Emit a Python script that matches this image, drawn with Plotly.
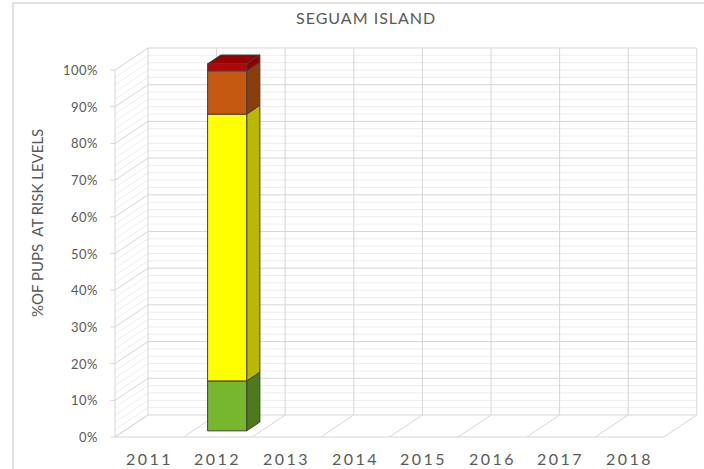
import plotly.graph_objects as go

# ---- data -------------------------------------------------------------
years = ["2011", "2012", "2013", "2014", "2015", "2016", "2017", "2018"]
risk_levels = ["Low", "Moderate", "High", "Very high"]
low_pct = [None, 13.6, None, None, None, None, None, None]
moderate_pct = [None, 72.7, None, None, None, None, None, None]
high_pct = [None, 11.8, None, None, None, None, None, None]
very_high_pct = [None, 1.9, None, None, None, None, None, None]
y_ticks = [0, 10, 20, 30, 40, 50, 60, 70, 80, 90, 100]

series = [low_pct, moderate_pct, high_pct, very_high_pct]
front_colors = ["#77B72E", "#FFFF00", "#C65911", "#C00000"]
side_colors = ["#4E7A1D", "#B9B900", "#8A3E0C", "#8C0000"]
top_colors = ["#5E9222", "#D8D800", "#A34A0E", "#990000"]

# ---- oblique projection: depth shifts right (category units) and up (%) --
DX = 0.481
DY = 6.0
BAR_W = 0.57
D0, D1 = 0.28, 0.68
N = len(years)


def proj(x, v, d):
    return x + d * DX, v + d * DY


fig = go.Figure()
shapes = []
annotations = []


def seg(p, q, color, width=1):
    shapes.append(dict(type="line", xref="x", yref="y", x0=p[0], y0=p[1],
                       x1=q[0], y1=q[1], line=dict(color=color, width=width),
                       layer="below"))


MAJOR = "#D6D6D6"
MINOR = "#EDEDED"

# back wall, left wall and floor grid
for v in range(0, 101, 2):
    col = MAJOR if v % 10 == 0 else MINOR
    seg(proj(0, v, 1), proj(N, v, 1), col)
    seg(proj(0, v, 0), proj(0, v, 1), col)
for k in range(N + 1):
    seg(proj(k, 0, 1), proj(k, 100, 1), MAJOR)
    seg(proj(k, 0, 0), proj(k, 0, 1), MAJOR)
seg(proj(0, 0, 0), proj(N, 0, 0), MAJOR)
seg(proj(0, 0, 0), proj(0, 100, 0), MAJOR)
for v in y_ticks:
    seg((-0.07, v), (0, v), MAJOR)

# stacked 3D bars
for i in range(N):
    base = 0.0
    vals = [s[i] for s in series]
    if all(v is None for v in vals):
        continue
    top_idx = max(j for j, v in enumerate(vals) if v)
    x0 = i + (1 - BAR_W) / 2
    x1 = x0 + BAR_W
    for j, v in enumerate(vals):
        if not v:
            continue
        lo, hi = base, base + v
        base = hi
        polys = []
        # right side face
        polys.append(([proj(x1, lo, D0), proj(x1, lo, D1), proj(x1, hi, D1),
                       proj(x1, hi, D0)], side_colors[j]))
        if j == top_idx:
            polys.append(([proj(x0, hi, D0), proj(x1, hi, D0), proj(x1, hi, D1),
                           proj(x0, hi, D1)], top_colors[j]))
        polys.append(([proj(x0, lo, D0), proj(x1, lo, D0), proj(x1, hi, D0),
                       proj(x0, hi, D0)], front_colors[j]))
        for pts, col in polys:
            xs = [p[0] for p in pts] + [pts[0][0]]
            ys = [p[1] for p in pts] + [pts[0][1]]
            fig.add_trace(go.Scatter(
                x=xs, y=ys, mode="lines", fill="toself", fillcolor=col,
                line=dict(color="#3F3F3F", width=1), hoverinfo="skip",
                name=risk_levels[j], showlegend=False))

FONT = "Lato, 'Open Sans', sans-serif"
TXT = "#595959"


def spaced(text, px):
    return f"<span style='letter-spacing:{px}px'>{text}</span>"


# value axis labels
for v in y_ticks:
    annotations.append(dict(x=-0.22, y=v, xref="x", yref="y",
                            text=spaced(f"{v}%", 0.5),
                            showarrow=False, xanchor="right", yanchor="middle",
                            font=dict(family=FONT, size=13, color=TXT)))
# category labels
for k, yr in enumerate(years):
    annotations.append(dict(x=k + 0.5, y=-5.9, xref="x", yref="y",
                            text=spaced(yr, 2.5),
                            showarrow=False, xanchor="center", yanchor="middle",
                            font=dict(family=FONT, size=16, color=TXT)))
# titles
annotations.append(dict(x=366 / 704, y=1 - 17 / 469, xref="paper", yref="paper",
                        text=spaced("SEGUAM ISLAND", 1), showarrow=False,
                        xanchor="center", yanchor="middle",
                        font=dict(family=FONT, size=16, color=TXT)))
annotations.append(dict(x=37 / 704, y=1 - 223 / 469, xref="paper", yref="paper",
                        text="%OF PUPS  AT RISK LEVELS", showarrow=False,
                        textangle=-90, xanchor="center", yanchor="middle",
                        font=dict(family=FONT, size=15, color=TXT)))

# chart frame
shapes.append(dict(type="rect", xref="paper", yref="paper",
                   x0=13 / 704, x1=1.02, y0=-0.02, y1=1 - 3 / 469,
                   line=dict(color="#D9D9D9", width=1.5), layer="below"))

fig.update_layout(
    width=704, height=469, autosize=False,
    margin=dict(l=0, r=0, t=0, b=0),
    paper_bgcolor="white", plot_bgcolor="white",
    xaxis=dict(range=[-115 / 68.6, (704 - 115) / 68.6], visible=False,
               fixedrange=True),
    yaxis=dict(range=[(437 - 469) / 3.67, 437 / 3.67], visible=False,
               fixedrange=True),
    shapes=shapes, annotations=annotations, showlegend=False,
)

fig.write_html("out.html")
